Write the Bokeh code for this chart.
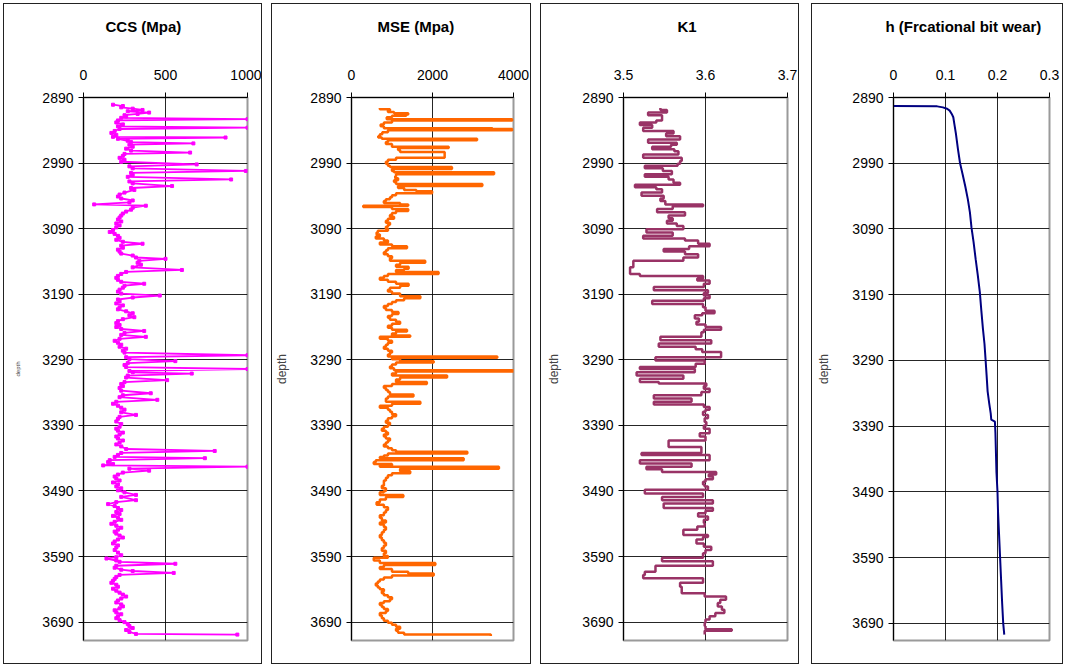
from bokeh.plotting import figure
from bokeh.layouts import row
from bokeh.models import Range1d, FixedTicker
from bokeh.embed import file_html
from bokeh.resources import INLINE

# ---------------- data ----------------
depth_ticks = [2890, 2990, 3090, 3190, 3290, 3390, 3490, 3590, 3690]

ccs_depth = [2901, 2903, 2905, 2907, 2909, 2911, 2913, 2915, 2917, 2919, 2921, 2923, 2925, 2928, 2931,
             2934, 2936, 2938, 2941, 2944, 2947, 2950, 2951, 2953, 2956, 2958, 2960, 2962, 2965, 2968,
             2971, 2974, 2976, 2979, 2982, 2985, 2988, 2992, 2995, 2998, 3002, 3005, 3008, 3011, 3015,
             3018, 3021, 3025, 3028, 3031, 3035, 3038, 3041, 3044, 3047, 3050, 3053, 3055, 3058, 3061,
             3064, 3067, 3070, 3073, 3076, 3079, 3082, 3085, 3088, 3092, 3095, 3098, 3101, 3104, 3107,
             3110, 3113, 3116, 3119, 3122, 3125, 3128, 3131, 3134, 3136, 3139, 3142, 3145, 3149, 3153,
             3156, 3159, 3162, 3165, 3168, 3171, 3174, 3177, 3180, 3183, 3186, 3189, 3192, 3195, 3198,
             3201, 3204, 3207, 3210, 3213, 3216, 3219, 3222, 3225, 3228, 3231, 3234, 3237, 3240, 3243,
             3246, 3249, 3252, 3255, 3258, 3261, 3264, 3267, 3270, 3273, 3276, 3279, 3283, 3286, 3289,
             3292, 3295, 3298, 3301, 3304, 3307, 3309, 3311, 3314, 3317, 3321, 3324, 3327, 3330, 3333,
             3337, 3341, 3344, 3347, 3351, 3354, 3357, 3360, 3363, 3366, 3370, 3374, 3377, 3380, 3384,
             3388, 3392, 3395, 3398, 3401, 3404, 3407, 3410, 3413, 3416, 3419, 3422, 3426, 3429, 3432,
             3435, 3438, 3440, 3443, 3446, 3449, 3451, 3453, 3456, 3459, 3462, 3465, 3468, 3471, 3474,
             3477, 3480, 3483, 3486, 3489, 3492, 3496, 3499, 3504, 3507, 3510, 3513, 3516, 3519, 3522,
             3525, 3528, 3531, 3534, 3537, 3540, 3543, 3546, 3549, 3552, 3555, 3558, 3561, 3564, 3567,
             3570, 3573, 3576, 3580, 3584, 3588, 3591, 3593, 3596, 3598, 3601, 3604, 3607, 3610, 3612,
             3615, 3618, 3621, 3624, 3627, 3630, 3633, 3636, 3639, 3642, 3645, 3648, 3651, 3654, 3657,
             3660, 3663, 3666, 3669, 3672, 3675, 3678, 3681, 3684, 3687, 3690, 3693, 3696, 3699, 3702,
             3705, 3708, 3709]
ccs_value = [180, 240, 230, 300, 360, 270, 400, 330, 250, 260, 230, 1000, 210, 200, 240,
             210, 1000, 220, 190, 170, 200, 180, 866, 210, 270, 290, 670, 280, 300, 260,
             290, 650, 250, 240, 220, 250, 230, 690, 280, 300, 990, 290, 300, 270, 900,
             280, 300, 540, 290, 310, 250, 220, 210, 230, 300, 280, 65, 380, 300, 290,
             260, 240, 230, 220, 210, 230, 200, 220, 200, 180, 160, 190, 210, 220, 200,
             240, 360, 230, 240, 210, 220, 230, 300, 320, 500, 340, 330, 350, 300, 600,
             260, 230, 210, 200, 210, 230, 370, 250, 240, 220, 210, 230, 465, 300, 210,
             220, 200, 240, 220, 210, 260, 300, 280, 310, 240, 210, 200, 220, 200, 230,
             370, 250, 230, 380, 220, 190, 210, 230, 220, 260, 240, 250, 1000, 260, 280,
             560, 270, 250, 260, 1000, 280, 300, 660, 270, 260, 510, 250, 230, 240, 220,
             230, 410, 240, 220, 450, 200, 180, 210, 230, 250, 230, 320, 220, 210, 200,
             230, 220, 200, 210, 240, 220, 200, 210, 240, 220, 200, 230, 260, 800, 230,
             210, 190, 740, 160, 150, 180, 120, 1000, 280, 400, 240, 210, 190, 200, 220,
             180, 210, 200, 230, 210, 250, 320, 230, 320, 200, 150, 190, 210, 230, 200,
             220, 180, 210, 230, 190, 170, 200, 230, 210, 190, 200, 220, 240, 210, 190,
             180, 210, 200, 190, 210, 230, 200, 140, 200, 220, 560, 200, 190, 230, 300,
             550, 220, 200, 190, 180, 170, 200, 210, 180, 200, 220, 240, 260, 230, 210,
             200, 230, 240, 220, 190, 200, 230, 210, 200, 220, 250, 270, 280, 300, 260,
             280, 320, 938]

mse_depth = [2906, 2908, 2910, 2912, 2914, 2916, 2918, 2920, 2923, 2925, 2928, 2931, 2934, 2937, 2938,
             2940, 2943, 2946, 2949, 2951, 2953, 2955, 2958, 2961, 2965, 2967, 2970, 2973, 2976, 2979,
             2982, 2985, 2988, 2991, 2994, 2996, 2999, 3002, 3004, 3007, 3010, 3013, 3016, 3019, 3022,
             3025, 3028, 3031, 3033, 3036, 3039, 3042, 3045, 3048, 3051, 3053, 3055, 3057, 3060, 3063,
             3066, 3069, 3072, 3075, 3078, 3081, 3084, 3087, 3090, 3093, 3096, 3099, 3102, 3105, 3108,
             3111, 3114, 3117, 3120, 3123, 3126, 3129, 3132, 3135, 3139, 3142, 3145, 3148, 3151, 3153,
             3156, 3159, 3162, 3165, 3168, 3171, 3174, 3177, 3180, 3183, 3186, 3189, 3193, 3196, 3199,
             3202, 3205, 3208, 3211, 3214, 3217, 3220, 3223, 3226, 3229, 3232, 3235, 3238, 3241, 3244,
             3247, 3250, 3253, 3255, 3258, 3261, 3264, 3267, 3270, 3273, 3276, 3279, 3282, 3285, 3287,
             3289, 3292, 3294, 3297, 3300, 3303, 3306, 3308, 3311, 3314, 3317, 3320, 3324, 3327, 3330,
             3333, 3336, 3339, 3343, 3346, 3349, 3354, 3357, 3360, 3363, 3366, 3369, 3373, 3376, 3379,
             3383, 3386, 3389, 3392, 3395, 3398, 3401, 3404, 3407, 3410, 3413, 3416, 3419, 3422, 3425,
             3428, 3430, 3433, 3436, 3438, 3440, 3443, 3446, 3449, 3451, 3453, 3456, 3460, 3463, 3466,
             3470, 3474, 3478, 3482, 3486, 3490, 3492, 3496, 3499, 3503, 3507, 3511, 3515, 3519, 3523,
             3527, 3531, 3535, 3538, 3541, 3545, 3549, 3553, 3557, 3561, 3565, 3569, 3573, 3577, 3581,
             3585, 3589, 3592, 3596, 3600, 3603, 3606, 3609, 3613, 3616, 3619, 3622, 3625, 3628, 3631,
             3634, 3637, 3640, 3643, 3646, 3649, 3652, 3655, 3658, 3661, 3664, 3667, 3670, 3673, 3676,
             3680, 3684, 3688, 3691, 3694, 3697, 3700, 3703, 3706, 3709, 3711]
mse_value = [700, 950, 900, 1050, 1400, 1350, 1000, 870, 3970, 1000, 800, 720, 800, 3480, 3970,
             900, 760, 700, 660, 750, 3100, 900, 850, 1000, 2400, 1150, 1200, 2300, 2300, 2300,
             1100, 900, 850, 900, 950, 2480, 1000, 1050, 3520, 1100, 1080, 1150, 1050, 1100, 3230,
             1150, 1300, 1600, 1990, 1100, 1000, 950, 850, 800, 1200, 1400, 290, 1000, 1400, 1100,
             1000, 950, 1050, 900, 850, 950, 900, 850, 900, 650, 620, 700, 600, 800, 900,
             700, 1000, 1370, 900, 850, 800, 900, 1000, 950, 1820, 1200, 1100, 1410, 1300, 1100,
             2150, 900, 800, 700, 900, 1100, 1410, 1200, 950, 900, 1000, 1200, 1700, 1300, 1100,
             1000, 900, 800, 850, 1000, 1160, 1000, 900, 950, 1100, 1200, 1000, 900, 1000, 1370,
             1100, 1000, 1450, 700, 900, 1000, 900, 850, 800, 900, 1000, 950, 900, 3600, 1000,
             1200, 2030, 1100, 1000, 950, 1050, 4000, 1100, 1000, 2360, 1200, 1100, 1860, 1000, 800,
             850, 900, 950, 1530, 900, 850, 1700, 1000, 700, 900, 950, 1000, 1100, 1000, 900,
             850, 950, 900, 800, 750, 850, 900, 800, 850, 950, 900, 850, 800, 900, 1000,
             1100, 2860, 900, 800, 700, 2770, 600, 550, 1000, 700, 3640, 1200, 1450, 1000, 900,
             850, 800, 800, 750, 850, 800, 700, 1280, 850, 700, 620, 800, 900, 850, 800,
             700, 750, 850, 700, 800, 850, 800, 750, 700, 750, 800, 850, 800, 750, 850,
             800, 900, 550, 700, 2070, 800, 700, 1000, 1400, 2030, 1000, 800, 700, 650, 600,
             650, 700, 800, 750, 800, 900, 1000, 950, 800, 700, 750, 800, 900, 850, 700,
             750, 800, 900, 1000, 1100, 1200, 1100, 1150, 1300, 3440, 3440]

k1_depth = [2906, 2909, 2913, 2917, 2921, 2925, 2928, 2932, 2936, 2941, 2945, 2949, 2954, 2959, 2962,
            2965, 2969, 2972, 2977, 2982, 2987, 2991, 2994, 2998, 3002, 3007, 3011, 3015, 3020, 3023,
            3027, 3030, 3035, 3040, 3044, 3048, 3053, 3056, 3060, 3065, 3070, 3074, 3078, 3082, 3086,
            3091, 3096, 3101, 3105, 3108, 3113, 3117, 3121, 3125, 3129, 3134, 3139, 3149, 3159, 3162,
            3166, 3169, 3174, 3179, 3184, 3188, 3192, 3196, 3200, 3205, 3210, 3215, 3219, 3222, 3227,
            3232, 3236, 3240, 3244, 3248, 3255, 3260, 3265, 3270, 3274, 3278, 3286, 3291, 3296, 3301,
            3304, 3309, 3314, 3319, 3324, 3326, 3330, 3334, 3339, 3344, 3349, 3354, 3358, 3362, 3366,
            3369, 3374, 3379, 3385, 3390, 3395, 3402, 3407, 3413, 3418, 3423, 3432, 3435, 3443, 3448,
            3453, 3457, 3461, 3465, 3468, 3472, 3476, 3480, 3483, 3488, 3494, 3499, 3504, 3509, 3516,
            3520, 3524, 3529, 3534, 3539, 3544, 3549, 3557, 3560, 3564, 3570, 3575, 3580, 3585, 3592,
            3597, 3604, 3613, 3618, 3623, 3630, 3636, 3643, 3646, 3651, 3656, 3661, 3666, 3671, 3676,
            3681, 3686, 3691, 3696, 3701, 3703, 3709]
k1_value = [3.545, 3.553, 3.530, 3.547, 3.547, 3.540, 3.520, 3.535, 3.524, 3.561, 3.552, 3.569, 3.530, 3.565, 3.558,
            3.535, 3.562, 3.567, 3.524, 3.571, 3.569, 3.566, 3.526, 3.548, 3.559, 3.526, 3.555, 3.561, 3.569, 3.514,
            3.540, 3.547, 3.522, 3.549, 3.545, 3.551, 3.597, 3.560, 3.541, 3.575, 3.555, 3.560, 3.553, 3.565, 3.573,
            3.528, 3.560, 3.524, 3.575, 3.591, 3.605, 3.580, 3.549, 3.575, 3.591, 3.573, 3.512, 3.508, 3.520, 3.597,
            3.590, 3.605, 3.598, 3.537, 3.603, 3.598, 3.605, 3.598, 3.535, 3.597, 3.600, 3.611, 3.596, 3.587, 3.592,
            3.589, 3.600, 3.619, 3.598, 3.595, 3.545, 3.607, 3.543, 3.588, 3.596, 3.619, 3.539, 3.599, 3.588, 3.520,
            3.587, 3.516, 3.573, 3.520, 3.543, 3.601, 3.598, 3.605, 3.595, 3.537, 3.583, 3.537, 3.598, 3.605, 3.600,
            3.597, 3.603, 3.599, 3.601, 3.598, 3.605, 3.593, 3.600, 3.555, 3.555, 3.595, 3.522, 3.605, 3.520, 3.583,
            3.528, 3.547, 3.613, 3.604, 3.609, 3.600, 3.597, 3.599, 3.603, 3.526, 3.597, 3.547, 3.609, 3.549, 3.609,
            3.600, 3.591, 3.603, 3.598, 3.599, 3.590, 3.573, 3.603, 3.597, 3.589, 3.598, 3.607, 3.600, 3.597, 3.547,
            3.609, 3.539, 3.526, 3.524, 3.597, 3.569, 3.571, 3.571, 3.599, 3.625, 3.618, 3.615, 3.620, 3.623, 3.612,
            3.605, 3.600, 3.599, 3.600, 3.632, 3.599, 3.599]

h_depth = [2903, 2903.5, 2905, 2907, 2910, 2915, 2920, 2930, 2945, 2969, 2990, 3007, 3025, 3045, 3065,
           3088, 3110, 3136, 3160, 3186, 3215, 3242, 3265, 3288, 3312, 3337, 3355, 3371, 3380, 3383,
           3400, 3430, 3460, 3490, 3520, 3555, 3590, 3625, 3660, 3690, 3707]
h_value = [0.0, 0.084, 0.095, 0.103, 0.108, 0.112, 0.115, 0.117, 0.120, 0.124, 0.128, 0.133, 0.138, 0.143, 0.147,
           0.150, 0.154, 0.158, 0.162, 0.166, 0.169, 0.172, 0.175, 0.177, 0.179, 0.181, 0.184, 0.187, 0.188, 0.195,
           0.196, 0.197, 0.198, 0.200, 0.201, 0.203, 0.205, 0.207, 0.209, 0.211, 0.213]


def vstep(depths, values):
    """Hold each value down to the next depth (vertical step)."""
    xs, ys = [], []
    for i, (d, v) in enumerate(zip(depths, values)):
        if i > 0:
            xs.append(values[i - 1])
            ys.append(d)
        xs.append(v)
        ys.append(d)
    return xs, ys


FONT = "Liberation Sans"
H = 661


def make_panel(title, width, left, right, bottom, ymax, xr, xticks, xlabels, title_offset, ylabel_size):
    p = figure(width=width, height=H, output_backend="svg", toolbar_location=None,
               x_range=Range1d(*xr), y_range=Range1d(ymax, 2890),
               x_axis_location="above",
               min_border_left=left, min_border_right=right,
               min_border_top=93, min_border_bottom=bottom)
    p.styles = {"border": "1px solid #222222", "box-sizing": "border-box"}
    p.background_fill_color = "white"
    p.border_fill_color = "white"
    p.outline_line_color = "#9a9a9a"
    p.outline_line_width = 2

    p.title.text = title
    p.title.align = "left"
    p.title.offset = title_offset
    p.title.text_font = FONT
    p.title.text_font_size = "15px"
    p.title.text_font_style = "bold"
    p.title.text_color = "black"
    p.title.standoff = 18

    xa = p.xaxis[0]
    xa.ticker = FixedTicker(ticks=xticks)
    xa.major_label_overrides = {t: l for t, l in zip(xticks, xlabels)}
    # blank axis label used only as spacing between tick labels and the title
    xa.axis_label = "\u00a0"
    xa.axis_label_text_font_size = "14px"
    xa.axis_label_standoff = 4
    ya = p.yaxis[0]
    ya.ticker = FixedTicker(ticks=depth_ticks)
    for ax in (xa, ya):
        ax.axis_line_color = "black"
        ax.major_tick_line_color = "black"
        ax.major_tick_out = 5
        ax.major_tick_in = 0
        ax.minor_tick_line_color = None
        ax.major_label_text_font = FONT
        ax.major_label_text_font_size = "14px"
        ax.major_label_text_color = "black"
    xa.major_label_standoff = 13
    ya.major_label_standoff = 5
    ya.axis_label = "depth"
    ya.axis_label_text_font = FONT
    ya.axis_label_text_font_size = ylabel_size
    ya.axis_label_text_font_style = "normal"
    ya.axis_label_standoff = 18

    for g in (p.xgrid[0], p.ygrid[0]):
        g.grid_line_color = "black"
        g.grid_line_alpha = 0.85
        g.grid_line_width = 1
    return p


p1 = make_panel("CCS (Mpa)", 259, 79, 16, 19, 3718, (0, 1000), [0, 500, 1000], ["0", "500", "1000"], 22, "6px")
p1.line(ccs_value, ccs_depth, line_color="#FF00FF", line_width=1.8)
p1.scatter(ccs_value, ccs_depth, marker="square", size=3, color="#FF00FF")

p2 = make_panel("MSE (Mpa)", 260, 78, 19, 19, 3718, (0, 4000), [0, 2000, 4000], ["0", "2000", "4000"], 26, "12px")
mx, my = vstep(mse_depth, mse_value)
p2.line(mx, my, line_color="#FF6600", line_width=2.5)

p3 = make_panel("K1", 259, 82, 13, 19, 3718, (3.5, 3.7), [3.5, 3.6, 3.7], ["3.5", "3.6", "3.7"], 54, "12px")
kx, ky = vstep(k1_depth, k1_value)
p3.line(kx, ky, line_color="#993366", line_width=2.5)

p4 = make_panel("h (Frcational bit wear)", 252, 81, 15, 25, 3716, (0, 0.3), [0, 0.1, 0.2, 0.3],
                ["0", "0.1", "0.2", "0.3"], -8, "12px")
p4.line(h_value, h_depth, line_color="#000080", line_width=2)

p1.margin = (3, 9, 0, 3)
p2.margin = (3, 9, 0, 0)
p3.margin = (3, 12, 0, 0)
p4.margin = (3, 0, 0, 0)

layout = row(p1, p2, p3, p4)
open("out.html", "w").write(file_html(layout, INLINE))
